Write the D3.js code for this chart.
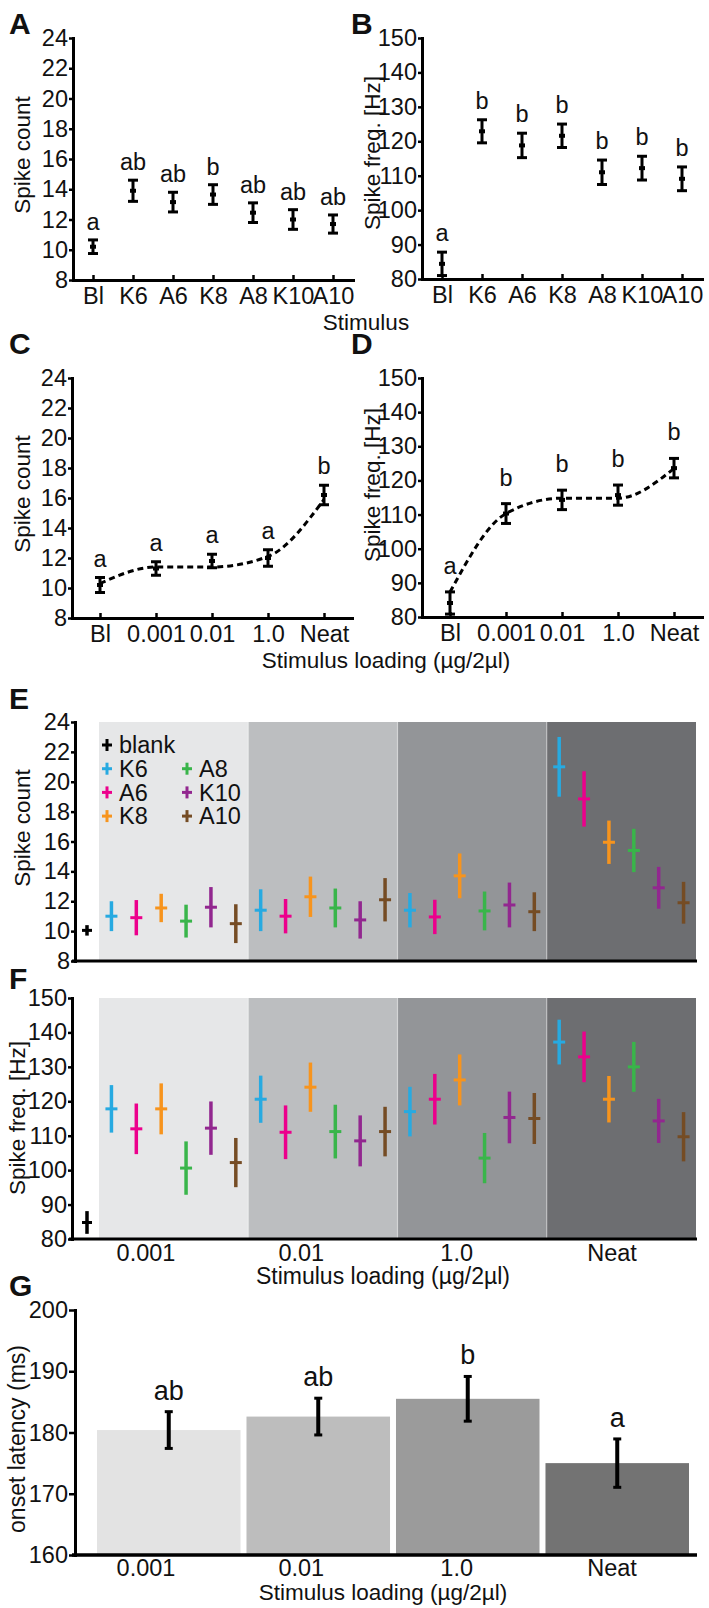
<!DOCTYPE html>
<html>
<head>
<meta charset="utf-8">
<script src="https://cdn.jsdelivr.net/npm/d3@7"></script>
<style>
  body { margin: 0; background: #fff; }
  text { font-family: Arial, "Liberation Sans", sans-serif; fill: #111; }
</style>
</head>
<body>
<div id="canvas"></div>
<script>
// ---- data ----
const stimuli = ['Bl', 'K6', 'A6', 'K8', 'A8', 'K10', 'A10'];
const countMeans = [10.2, 13.9, 13.15, 13.65, 12.45, 12.0, 11.7];
const countSems = [0.45, 0.7, 0.65, 0.65, 0.65, 0.65, 0.6];
const countLetters = ['a', 'ab', 'ab', 'b', 'ab', 'ab', 'ab'];
const freqMeans = [84.4, 122.9, 118.8, 121.6, 111.0, 112.2, 109.1];
const freqSems = [3.4, 3.35, 3.55, 3.4, 3.55, 3.45, 3.45];
const freqLetters = ['a', 'b', 'b', 'b', 'b', 'b', 'b'];

const loadings = ['Bl', '0.001', '0.01', '1.0', 'Neat'];
const doseCountMeans = [10.2, 11.3, 11.8, 12.0, 16.2];
const doseCountSems = [0.5, 0.45, 0.45, 0.55, 0.65];
const doseCountFit = [10.3, 11.4, 11.4, 12.1, 15.9];
const doseCountLetters = ['a', 'a', 'a', 'a', 'b'];
const doseFreqMeans = [84.1, 110.3, 114.3, 115.7, 123.6];
const doseFreqSems = [3.25, 2.9, 2.85, 2.95, 2.85];
const doseFreqFit = [87.3, 110.3, 114.8, 114.8, 123.5];
const doseFreqLetters = ['a', 'b', 'b', 'b', 'b'];

const odors = ['K6', 'A6', 'K8', 'A8', 'K10', 'A10'];
const bands = ['0.001', '0.01', '1.0', 'Neat'];
// rows = loading, columns = odor
const odorCountMeans = [
  [11.0, 10.9, 11.55, 10.67, 11.6, 10.5],
  [11.4, 11.0, 12.3, 11.55, 10.75, 12.1],
  [11.4, 10.95, 13.7, 11.35, 11.75, 11.3],
  [21.0, 18.85, 15.95, 15.4, 12.9, 11.9]
];
const odorCountSems = [
  [1.0, 1.18, 0.95, 1.1, 1.35, 1.3],
  [1.4, 1.15, 1.35, 1.3, 1.25, 1.45],
  [1.15, 1.15, 1.5, 1.3, 1.5, 1.3],
  [2.0, 1.85, 1.45, 1.45, 1.4, 1.4]
];
const odorFreqMeans = [
  [117.8, 112.0, 117.8, 100.6, 112.2, 102.2],
  [120.6, 111.0, 124.1, 111.2, 108.5, 111.2],
  [117.0, 120.6, 126.2, 103.5, 115.3, 115.0],
  [137.2, 132.9, 120.6, 130.0, 114.3, 109.7]
];
const odorFreqSems = [
  [6.9, 7.35, 7.4, 7.75, 7.75, 7.15],
  [6.85, 7.8, 7.15, 7.8, 7.4, 7.2],
  [7.2, 7.35, 7.4, 7.3, 7.5, 7.4],
  [6.5, 7.35, 6.75, 7.25, 6.4, 7.15]
];
const blankCount = [10.05, 0.35];
const blankFreq = [84.8, 3.3];

const latencyMeans = [180.4, 182.6, 185.5, 175.0];
const latencySems = [3.0, 3.0, 3.65, 3.95];
const latencyLetters = ['ab', 'ab', 'b', 'a'];

const countTicks = [8, 10, 12, 14, 16, 18, 20, 22, 24];
const freqTicks = [80, 90, 100, 110, 120, 130, 140, 150];
const latencyTicks = [160, 170, 180, 190, 200];

// ---- styles ----
const odorColors = ['#27aae1', '#ec008c', '#f7941d', '#39b54a', '#92278f', '#754c24'];
const bandColors = ['#e6e7e8', '#bcbec0', '#939598', '#6d6e71'];
const barColors = ['#e3e3e3', '#bdbdbd', '#9b9b9b', '#737373'];
const FS = 23.5;   // tick labels, letters
const LS = 22.5;   // axis titles

const svg = d3.select('#canvas').append('svg')
  .attr('width', 709)
  .attr('height', 1608);

function yAxis(g, y, x0, ticks, tickLen) {
  const a = g.append('g')
    .attr('transform', `translate(${x0},0)`)
    .call(d3.axisLeft(y).tickValues(ticks).tickSizeInner(tickLen || 5).tickSizeOuter(0).tickPadding(1));
  a.select('.domain').attr('stroke', '#000').attr('stroke-width', 3).attr('stroke-linecap', 'square');
  a.selectAll('.tick line').attr('stroke', '#000').attr('stroke-width', 2.5);
  a.selectAll('.tick text').attr('font-size', FS).attr('font-family', 'Arial, Liberation Sans, sans-serif').attr('fill', '#111');
  return a;
}

function yLabel(text, cx, cy, size) {
  svg.append('text')
    .attr('transform', `translate(${cx},${cy}) rotate(-90)`)
    .attr('text-anchor', 'middle')
    .attr('dy', '0.35em')
    .attr('font-size', size || LS)
    .text(text);
}

function panelLetter(t, x, y) {
  svg.append('text').attr('x', x).attr('y', y)
    .attr('font-size', 30).attr('font-weight', 'bold').attr('fill', '#000').text(t);
}

// dot + error bar panels (A-D)
function dotPanel(o) {
  const g = svg.append('g');
  const x = d3.scalePoint().domain(o.cats).range([o.x0, o.x1]).padding(0.5);
  const y = d3.scaleLinear().domain([o.ticks[0], o.ticks[o.ticks.length - 1]]).range([o.yBot, o.yTop]);

  yAxis(g, y, o.x0, o.ticks, 4);

  const xa = g.append('g')
    .attr('transform', `translate(0,${o.yBot})`)
    .call(d3.axisBottom(x).tickSizeInner(-5).tickSizeOuter(0).tickPadding(7));
  xa.select('.domain').attr('stroke', '#000').attr('stroke-width', 3).attr('stroke-linecap', 'square');
  xa.selectAll('.tick line').attr('stroke', '#000').attr('stroke-width', 2.5);
  xa.selectAll('.tick text').attr('font-size', FS).attr('font-family', 'Arial, Liberation Sans, sans-serif').attr('fill', '#111');

  const pts = o.cats.map((c, i) => ({ c, m: o.means[i], s: o.sems[i], l: o.letters[i] }));

  if (o.fit) {
    const line = d3.line()
      .x((d, i) => x(o.cats[i]))
      .y(d => y(d))
      .curve(d3.curveMonotoneX);
    g.append('path').datum(o.fit)
      .attr('d', line)
      .attr('fill', 'none')
      .attr('stroke', '#000')
      .attr('stroke-width', 3)
      .attr('stroke-dasharray', '6,4');
  }

  const eb = g.selectAll('.eb').data(pts).enter().append('g');
  eb.append('line')
    .attr('x1', d => x(d.c)).attr('x2', d => x(d.c))
    .attr('y1', d => y(d.m - d.s)).attr('y2', d => y(d.m + d.s))
    .attr('stroke', '#000').attr('stroke-width', 3);
  [1, -1].forEach(sg => {
    eb.append('line')
      .attr('x1', d => x(d.c) - 5).attr('x2', d => x(d.c) + 5)
      .attr('y1', d => y(d.m + sg * d.s)).attr('y2', d => y(d.m + sg * d.s))
      .attr('stroke', '#000').attr('stroke-width', 3);
  });
  eb.append('rect')
    .attr('x', d => x(d.c) - 3).attr('y', d => y(d.m) - 2)
    .attr('width', 6).attr('height', 4)
    .attr('fill', '#000');
  eb.append('text')
    .attr('x', d => x(d.c))
    .attr('y', d => y(d.m + d.s) - o.gap)
    .attr('text-anchor', 'middle')
    .attr('font-size', FS)
    .text(d => d.l);
}

dotPanel({ cats: stimuli, means: countMeans, sems: countSems, letters: countLetters,
  ticks: countTicks, x0: 73, x1: 353, yTop: 38, yBot: 280, gap: 10 });
dotPanel({ cats: stimuli, means: freqMeans, sems: freqSems, letters: freqLetters,
  ticks: freqTicks, x0: 422, x1: 702, yTop: 38, yBot: 279, gap: 11 });
dotPanel({ cats: loadings, means: doseCountMeans, sems: doseCountSems, letters: doseCountLetters,
  fit: doseCountFit, ticks: countTicks, x0: 72, x1: 352, yTop: 378, yBot: 618, gap: 11 });
dotPanel({ cats: loadings, means: doseFreqMeans, sems: doseFreqSems, letters: doseFreqLetters,
  fit: doseFreqFit, ticks: freqTicks, x0: 422, x1: 702, yTop: 378, yBot: 617, gap: 18 });

panelLetter('A', 9, 34);
panelLetter('B', 351, 34);
panelLetter('C', 9, 354);
panelLetter('D', 351, 354);
yLabel('Spike count', 22, 155);
yLabel('Spike freq. [Hz]', 372, 153);
yLabel('Spike count', 22, 494);
yLabel('Spike freq. [Hz]', 372, 485);
svg.append('text').attr('x', 366).attr('y', 330).attr('text-anchor', 'middle')
  .attr('font-size', LS).text('Stimulus');
svg.append('text').attr('x', 386).attr('y', 668).attr('text-anchor', 'middle')
  .attr('font-size', LS).text('Stimulus loading (µg/2µl)');

// odor x loading panels (E, F)
const xb = d3.scaleBand().domain(bands).range([99, 696]);
const xo = d3.scalePoint().domain(odors).range([0, xb.bandwidth()]).padding(0.5);
const xLab = d3.scalePoint().domain(bands).range([146, 612]);

function odorPanel(o) {
  const g = svg.append('g');
  const y = d3.scaleLinear().domain([o.ticks[0], o.ticks[o.ticks.length - 1]]).range([o.yBot, o.yTop]);

  g.selectAll('.band').data(bands).enter().append('rect')
    .attr('x', d => xb(d)).attr('y', o.yTop)
    .attr('width', xb.bandwidth()).attr('height', o.yBot - o.yTop)
    .attr('fill', (d, i) => bandColors[i]);
  g.selectAll('.sep').data(bands.slice(1)).enter().append('line')
    .attr('x1', d => xb(d)).attr('x2', d => xb(d))
    .attr('y1', o.yTop).attr('y2', o.yBot)
    .attr('stroke', '#fff').attr('stroke-opacity', 0.4).attr('stroke-width', 1.2);

  yAxis(g, y, o.x0, o.ticks, 4);
  g.append('line')
    .attr('x1', o.x0 - 3).attr('x2', 697)
    .attr('y1', o.yBot).attr('y2', o.yBot)
    .attr('stroke', '#000').attr('stroke-width', 3);

  const pts = [];
  bands.forEach((b, i) => odors.forEach((od, j) => {
    pts.push({ x: xb(b) + xo(od), m: o.means[i][j], s: o.sems[i][j], col: odorColors[j] });
  }));
  pts.push({ x: xb.range()[0] - 12, m: o.blank[0], s: o.blank[1], col: '#000', blank: true });

  const mk = g.selectAll('.mk').data(pts).enter().append('g');
  mk.append('line')
    .attr('x1', d => d.x).attr('x2', d => d.x)
    .attr('y1', d => y(d.m - d.s)).attr('y2', d => y(d.m + d.s))
    .attr('stroke', d => d.col).attr('stroke-width', 3.5);
  mk.append('line')
    .attr('x1', d => d.x - (d.blank ? 5 : 6)).attr('x2', d => d.x + (d.blank ? 5 : 6))
    .attr('y1', d => y(d.m)).attr('y2', d => y(d.m))
    .attr('stroke', d => d.col).attr('stroke-width', 3);
  return g;
}

const gE = odorPanel({ means: odorCountMeans, sems: odorCountSems, blank: blankCount,
  ticks: countTicks, x0: 75, yTop: 722, yBot: 961 });
odorPanel({ means: odorFreqMeans, sems: odorFreqSems, blank: blankFreq,
  ticks: freqTicks, x0: 72, yTop: 998, yBot: 1239 });

// legend in E
const legendItems = [{ n: 'blank', c: '#000' }].concat(odors.map((n, i) => ({ n, c: odorColors[i] })));
const leg = gE.append('g');
legendItems.forEach((d, i) => {
  const col = i === 0 ? 0 : (i - 1) < 3 ? 0 : 1;
  const row = i === 0 ? 0 : 1 + ((i - 1) % 3);
  const lx = 107 + col * 80;
  const ly = 745 + row * 23.7;
  leg.append('line').attr('x1', lx - 5).attr('x2', lx + 5).attr('y1', ly).attr('y2', ly)
    .attr('stroke', d.c).attr('stroke-width', 3);
  leg.append('line').attr('x1', lx).attr('x2', lx).attr('y1', ly - 6).attr('y2', ly + 6)
    .attr('stroke', d.c).attr('stroke-width', 3);
  leg.append('text').attr('x', lx + 12).attr('y', ly).attr('dy', '0.35em')
    .attr('font-size', FS).text(d.n);
});

svg.selectAll('.fl').data(bands).enter().append('text')
  .attr('x', d => xLab(d)).attr('y', 1261)
  .attr('text-anchor', 'middle').attr('font-size', FS).text(d => d);
svg.append('text').attr('x', 383).attr('y', 1284).attr('text-anchor', 'middle')
  .attr('font-size', 23).text('Stimulus loading (µg/2µl)');

panelLetter('E', 9, 709);
panelLetter('F', 9, 989);
yLabel('Spike count', 22, 828);
yLabel('Spike freq. [Hz]', 17, 1118);

// latency bars (G)
const gG = svg.append('g');
const xG = d3.scaleBand().domain(bands).range([97, 689]).paddingInner(0.04).paddingOuter(0);
const yG = d3.scaleLinear().domain([160, 200]).range([1555, 1310]);

gG.selectAll('.bar').data(bands).enter().append('rect')
  .attr('x', d => xG(d)).attr('width', xG.bandwidth())
  .attr('y', (d, i) => yG(latencyMeans[i]))
  .attr('height', (d, i) => yG(160) - yG(latencyMeans[i]))
  .attr('fill', (d, i) => barColors[i]);

yAxis(gG, yG, 75, latencyTicks, 6);
gG.append('line').attr('x1', 72).attr('x2', 697).attr('y1', 1555).attr('y2', 1555)
  .attr('stroke', '#000').attr('stroke-width', 3.5);

const ebG = gG.selectAll('.ebg').data(bands).enter().append('g');
ebG.append('line')
  .attr('x1', d => xG(d) + xG.bandwidth() / 2).attr('x2', d => xG(d) + xG.bandwidth() / 2)
  .attr('y1', (d, i) => yG(latencyMeans[i] - latencySems[i]))
  .attr('y2', (d, i) => yG(latencyMeans[i] + latencySems[i]))
  .attr('stroke', '#000').attr('stroke-width', 4);
[1, -1].forEach(sg => {
  ebG.append('line')
    .attr('x1', d => xG(d) + xG.bandwidth() / 2 - 4).attr('x2', d => xG(d) + xG.bandwidth() / 2 + 4)
    .attr('y1', (d, i) => yG(latencyMeans[i] + sg * latencySems[i]))
    .attr('y2', (d, i) => yG(latencyMeans[i] + sg * latencySems[i]))
    .attr('stroke', '#000').attr('stroke-width', 3);
});
ebG.append('text')
  .attr('x', d => xG(d) + xG.bandwidth() / 2)
  .attr('y', (d, i) => yG(latencyMeans[i] + latencySems[i]) - 12)
  .attr('text-anchor', 'middle').attr('font-size', 27)
  .text((d, i) => latencyLetters[i]);

svg.selectAll('.gl').data(bands).enter().append('text')
  .attr('x', d => xLab(d)).attr('y', 1576)
  .attr('text-anchor', 'middle').attr('font-size', FS).text(d => d);
svg.append('text').attr('x', 383).attr('y', 1600).attr('text-anchor', 'middle')
  .attr('font-size', 22.5).text('Stimulus loading (µg/2µl)');

panelLetter('G', 9, 1296);
yLabel('onset latency (ms)', 17, 1439, 23);
</script>
</body>
</html>
